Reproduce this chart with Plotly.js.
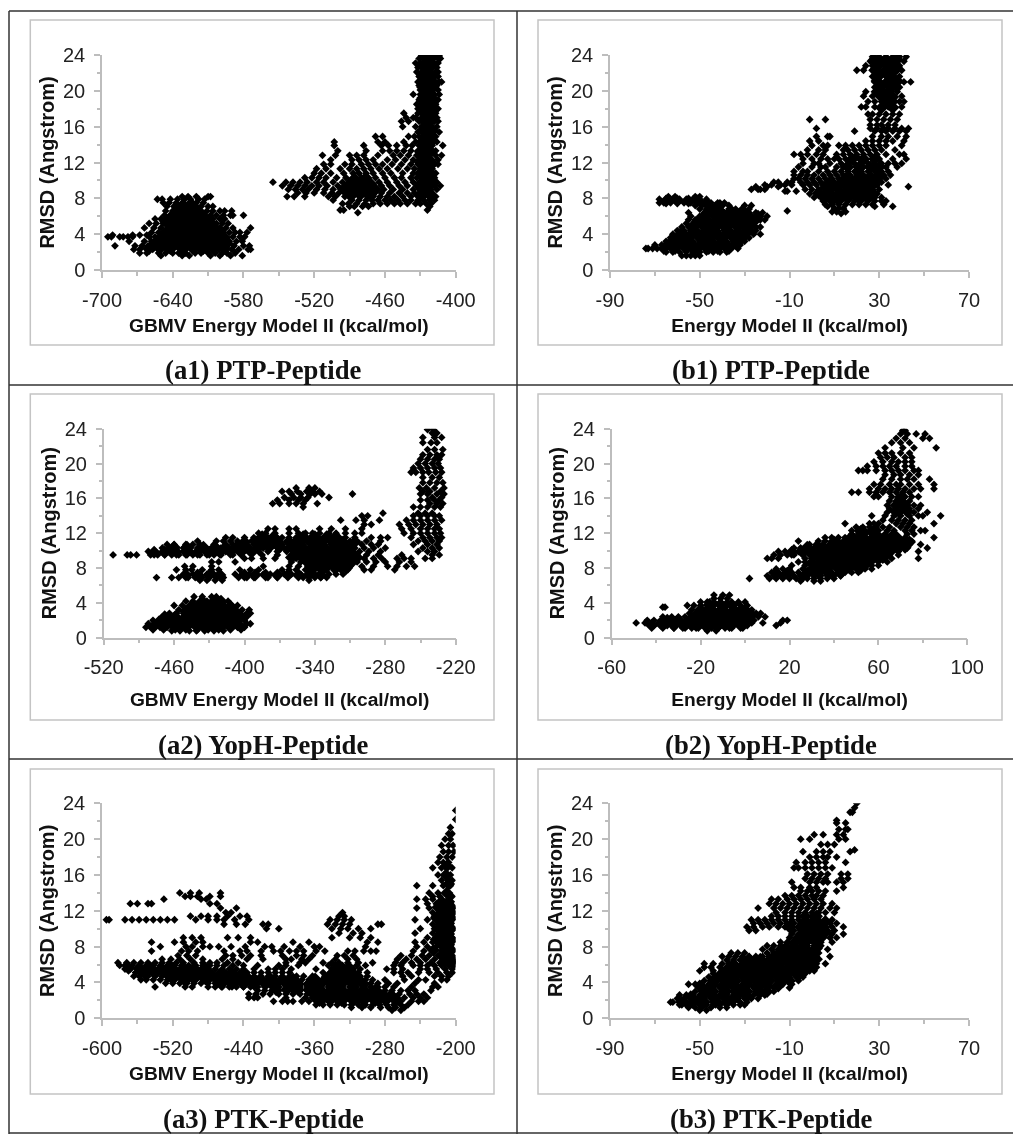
<!DOCTYPE html>
<html><head><meta charset="utf-8">
<script src="https://cdn.plot.ly/plotly-3.0.1.min.js"></script>
<style>html,body{margin:0;padding:0;background:#fff}#c{width:1013px;height:1134px;filter:blur(0.7px)}</style>
</head><body><div id="c"></div>
<script>
// Each row is [RMSD, energy, energy, ...].
const a1Rows=[
[1.6,-650,-632,-626,-608,-600,-591,-581],
[1.9,-668,-662,-652,-646,-640,-635,-629,-621,-616,-610,-604,-598,-594,-587],
[2.3,-673,-668,-662,-657,-651,-645,-640,-634,-629,-623,-618,-612,-607,-601,-596,-590,-584,-576,-574],
[2.7,-689,-672,-666,-661,-655,-650,-644,-638,-633,-627,-622,-616,-611,-605,-600,-594,-588,-580,-575],
[3.2,-677,-664,-658,-653,-647,-642,-636,-631,-625,-620,-614,-609,-603,-598,-592,-586,-581],
[3.7,-695,-692,-685,-682,-678,-674,-660,-655,-650,-644,-639,-633,-628,-622,-617,-611,-606,-600,-595,-589,-583,-579],
[3.9,-691,-674,-668,-662],
[4.2,-658,-652,-647,-641,-636,-630,-625,-619,-614,-608,-603,-597,-592,-587,-583,-577],
[4.7,-664,-656,-650,-644,-639,-633,-628,-622,-617,-611,-606,-600,-595,-589,-574],
[5.2,-660,-654,-648,-642,-636,-631,-625,-620,-614,-609,-603,-598,-593],
[5.7,-655,-650,-644,-639,-633,-628,-622,-617,-611,-606,-600,-596],
[6.1,-647,-641,-636,-630,-625,-619,-614,-608,-603,-597,-591,-589,-580],
[6.6,-646,-640,-634,-628,-623,-617,-611,-606,-600,-596,-590],
[7.1,-645,-639,-633,-628,-622,-616,-610,-606],
[7.5,-648,-643,-637,-631,-626,-620,-614],
[7.9,-653,-649,-642,-636,-630,-625,-618,-613],
[8.2,-632,-627,-620,-610,-608],
[6.4,-483],[6.7,-498,-495,-424],
[7.1,-490,-486,-479,-474,-422],
[7.4,-496,-491,-484,-477,-470,-464,-458,-452,-447,-441,-434,-430,-425,-421],
[7.8,-504,-488,-482,-476,-471,-466,-460,-455,-449,-443,-438,-432,-427,-422,-418],
[8.2,-543,-537,-528,-508,-502,-494,-487,-481,-475,-470,-464,-458,-452,-445,-438,-432,-427,-423,-417],
[8.6,-534,-527,-520,-512,-505,-499,-492,-486,-480,-475,-469,-463,-456,-448,-441,-435,-430,-425,-420],
[9,-542,-536,-530,-525,-518,-511,-504,-497,-491,-485,-480,-474,-468,-461,-453,-445,-436,-431,-426,-421,-416],
[9.4,-547,-540,-534,-528,-522,-516,-509,-500,-494,-488,-482,-476,-470,-463,-456,-448,-441,-433,-428,-423,-418,-413],
[9.8,-555,-544,-538,-532,-526,-518,-512,-504,-496,-490,-484,-478,-472,-465,-458,-450,-443,-436,-430,-425,-420,-416],
[10.3,-528,-522,-516,-510,-501,-493,-486,-480,-474,-468,-460,-452,-446,-438,-433,-428,-422,-418],
[10.8,-520,-514,-506,-495,-487,-482,-476,-470,-462,-455,-445,-436,-431,-426,-421,-417],
[11.3,-518,-510,-498,-490,-484,-478,-472,-465,-458,-449,-441,-435,-430,-425,-420],
[11.8,-512,-506,-494,-488,-480,-474,-468,-462,-454,-446,-438,-432,-428,-422,-418,-415],
[12.3,-506,-488,-482,-476,-470,-458,-451,-443,-436,-431,-426,-420,-415],
[12.8,-513,-502,-490,-484,-478,-466,-453,-447,-440,-433,-428,-423,-417,-412],
[13.3,-500,-476,-462,-456,-450,-444,-438,-432,-427,-422,-417],
[13.9,-503,-478,-463,-457,-450,-442,-437,-431,-426,-420,-411],
[14.3,-503,-466,-460,-444,-434,-430,-425,-420,-416],
[14.9,-468,-462,-440,-435,-431,-426,-421,-417],
[15.4,-432,-428,-423,-419,-414],[16,-445,-434,-429,-424,-420,-416],
[16.6,-446,-440,-431,-427,-422,-418,-415],[17,-442,-436,-434,-428,-423,-419,-416],
[17.5,-444,-432,-429,-425,-420,-417],[18,-432,-427,-423,-418,-415],
[18.5,-433,-429,-425,-421,-417],[19,-431,-427,-423,-419,-415],[19.6,-436,-430,-426,-422,-418,-414],
[20.1,-430,-427,-423,-419,-415],[20.6,-431,-428,-424,-420,-416],[21,-432,-429,-425,-421,-417,-414,-412],
[21.6,-431,-427,-423,-419,-415],[22.1,-433,-429,-425,-421,-417,-415],[22.6,-432,-428,-424,-420,-416],
[23.1,-434,-430,-426,-422,-418,-415],[23.6,-431,-427,-423,-419,-415,-413],[23.9,-429,-425,-421,-417,-414]
];
const a1Core=[
[2.4,-660,-651,-642,-632,-623,-614,-605,-596],[3,-655,-646,-637,-628,-618,-609,-600,-594],
[3.6,-650,-641,-632,-623,-614,-605,-596],[4.2,-646,-637,-628,-618,-609,-600],
[4.8,-641,-632,-623,-614,-605],[5.4,-646,-637,-628,-618,-609],[6,-641,-632,-623,-614],
[6.6,-636,-627,-618],[7.2,-632,-623],
[8.4,-490,-481,-472,-430,-421],[9,-495,-486,-477,-468,-426],[9.6,-490,-481,-472,-430,-421],
[10.2,-486,-477,-426],[10.8,-430,-421],[11.4,-426],[12,-430,-421],[12.6,-426],[13.2,-430,-421],[13.8,-425],
[14.4,-428,-420],[15,-424],[15.6,-428,-420],[16.2,-424],[16.8,-428,-420],[17.4,-424],[18,-428,-420],[18.6,-424],
[19.2,-428,-420],[19.8,-424],[20.4,-428,-420],[21,-424],[21.6,-428,-420],[22.2,-424],[22.8,-428,-420],[23.4,-424]
];
const b1Rows=[
[1.6,-58,-56,-54,-52,-50],
[2,-65,-62,-59,-56,-53,-50,-47,-44,-41,-38],
[2.4,-74,-73,-71,-69,-66,-63,-60,-57,-54,-51,-48,-45,-42,-39,-36,-33],
[2.8,-70,-67,-64,-61,-58,-55,-52,-49,-46,-43,-40,-37,-34,-32],
[3.2,-65,-62,-59,-56,-53,-50,-47,-44,-41,-38,-35,-32,-30],
[3.6,-63,-60,-57,-54,-51,-48,-45,-42,-39,-36,-33,-30,-28],
[4,-62,-59,-56,-53,-50,-47,-44,-41,-38,-35,-32,-29,-26,-23],
[4.4,-60,-57,-54,-51,-48,-45,-42,-39,-36,-33,-30,-27,-25],
[4.8,-58,-55,-52,-49,-46,-43,-40,-37,-34,-31,-28,-25,-23],
[5.2,-56,-53,-50,-47,-44,-41,-38,-35,-33,-30],
[5.6,-55,-52,-49,-46,-43,-40,-37,-34,-31,-28,-25,-23,-21],
[6,-54,-50,-47,-44,-41,-38,-35,-33,-30,-27,-24,-20],
[6.4,-55,-48,-45,-42,-39,-36,-33,-31,-28,-25,-22],
[6.8,-50,-47,-44,-41,-37,-34,-31,-28],
[7.2,-52,-49,-46,-43,-40,-37,-30,-27],
[7.5,-68,-66,-63,-60,-57,-54,-51,-48,-45,-42,-39],
[7.9,-68,-65,-62,-59,-56,-53,-50,-47],[8.2,-64,-61,-52,-50],
[6.6,-11],[6.3,13],[6.5,9,11,15],
[6.9,10,12,14],[7.1,7,28,36],
[7.3,6,9,12,15,18,21,24,27,32],
[7.7,5,8,10,13,16,19,22,25,28,31,33],
[8.1,1,4,7,10,13,16,19,22,25,28,31],
[8.5,-1,2,5,8,11,14,17,20,23,26,29],
[8.8,-12,-11,-7],[9,-27,-24,-23,-21,-3,0,3,6,9,12,15,18,21,24,27,30],
[9.3,-25,-20,-15,43],[9.5,-21,-18,-14,-12,-9,-4,-1,2,5,8,11,14,17,20,23,26,29,34],
[9.8,-17,-15,-11,-9,-5,-2,1,4,7,10,13,16,19,22,25,28,31],
[10.2,-8,-6,-3,0,3,6,9,12,15,18,21,24,27,33],
[10.6,-8,-5,-2,1,5,8,11,14,17,20,23,26,29,32,35],
[11,-8,-4,-2,3,7,10,13,16,19,22,25,28,31,34],
[11.5,-6,0,4,6,11,14,17,20,23,26,29,33,38],
[11.9,-4,1,3,8,13,16,19,22,25,28,31,34,37,40],
[12.4,-4,0,4,7,10,12,15,18,21,24,27,30,36,42],
[12.9,-8,-5,-2,2,5,11,14,17,20,23,26,29,33,39,41],
[13.4,-2,3,6,14,16,19,22,25,28,31,37],
[13.9,0,5,7,12,15,18,21,24,27,30,33,40],
[14.4,-1,3,24,27,30,33,36,41],[14.9,2,7,8,27,31,34,38,42],
[15.5,19,28,31,33,36,39,42],[15.8,2,26,29,32,34,37,40,43],
[16.2,26,29,31,34,37],[16.8,-1,6,26,29,32,35,38],
[17.4,25,27,30,33,36,39],[18.2,22,24,28,31,34,37,40],
[18.8,25,28,31,34,37,39,41],[19.4,23,27,30,33,36,40],[19.9,24,29,32,35,38],
[20.4,28,31,34,37,39],[21,28,30,33,36,39,41,44],
[21.6,27,30,33,36,39],[22.3,20,23,27,29,32,35,38,40],[22.8,24,27,30,33,36,39],
[23.3,26,29,32,35,38,41],[23.8,27,30,33,36,39,42]
];
const b1Core=[
[2.4,-66,-61,-56,-51,-46,-42,-37],[3,-63,-58,-54,-49,-44,-39,-34],[3.6,-60,-55,-50,-45,-40,-35,-31],
[4.2,-58,-53,-48,-43,-38,-33,-29],[4.8,-53,-48,-43,-38,-33,-28],[5.4,-51,-46,-41,-36,-31,-26],
[6,-48,-43,-38,-33,-28,-24],[6.6,-46,-41,-36,-31],[7.2,-46,-41],[7.7,-65,-60,-55,-51],
[8,6,11,16,21,25],[8.6,3,8,13,18,23,27],[9.2,6,11,16,21,26],[9.8,8,13,18,23,28],[10.4,16,21,26,30],
[11.5,16,21,26,30],[12.4,18,23,28],
[18.1,31,36],[18.7,33],[19.3,31,36],[19.9,29,34],[20.5,31,36],[21.1,29,34,38],[21.7,30,35],[22.3,28,33,37],[22.9,30,35],[23.5,28,33,38]
];
const a2Rows=[
[0.8,-462,-455,-447,-441,-434,-426,-418],
[1.2,-484,-478,-472,-466,-460,-454,-448,-442,-436,-430,-424,-418,-412,-406,-400],
[1.6,-482,-476,-470,-464,-458,-452,-446,-440,-434,-428,-422,-416,-410,-404,-398,-395],
[2,-478,-472,-466,-460,-454,-448,-442,-436,-430,-424,-418,-412,-406,-400],
[2.4,-470,-464,-458,-452,-446,-440,-434,-428,-422,-416,-410,-404,-398],
[2.8,-464,-458,-452,-446,-440,-434,-428,-422,-416,-410,-404,-398,-395],
[3.2,-456,-450,-444,-438,-432,-426,-420,-414,-408,-402,-396],
[3.7,-460,-453,-447,-441,-435,-429,-423,-417,-411,-406],
[4.2,-450,-444,-438,-432,-426,-420,-414],
[4.7,-443,-436,-428,-424],
[6.6,-438,-432,-425,-419,-345],
[6.9,-475,-462,-456,-448,-442,-436,-430,-424,-418,-405,-398,-392,-380,-372,-350,-340,-335,-330],
[7.3,-452,-444,-438,-432,-426,-420,-408,-402,-396,-390,-384,-378,-372,-366,-360,-352,-346,-340,-334,-328,-322,-316],
[7.8,-458,-450,-445,-436,-428,-422,-404,-395,-388,-368,-362,-356,-348,-342,-336,-330,-324,-318,-312,-298,-292,-272],
[8.2,-451,-444,-428,-384,-362,-354,-346,-340,-334,-328,-322,-316,-310,-300,-290,-278,-270,-262,-255],
[8.7,-428,-422,-408,-360,-352,-346,-340,-334,-328,-322,-316,-310,-304,-296,-288,-280,-268,-258],
[9.1,-400,-394,-384,-374,-356,-348,-342,-336,-330,-324,-318,-312,-306,-298,-290,-283,-270,-264,-258,-246,-240],
[9.5,-512,-500,-497,-492,-480,-474,-468,-462,-456,-450,-444,-438,-432,-426,-420,-410,-385,-372,-360,-352,-346,-340,-334,-328,-322,-316,-310,-304,-296,-286,-266,-240,-234],
[9.9,-482,-476,-470,-464,-458,-452,-446,-440,-434,-428,-422,-416,-410,-404,-394,-388,-380,-372,-364,-356,-350,-344,-338,-332,-326,-320,-314,-308,-302,-294,-284,-252,-244,-238],
[10.3,-470,-464,-458,-452,-446,-440,-434,-428,-420,-414,-408,-402,-396,-390,-384,-378,-372,-366,-360,-354,-348,-342,-336,-330,-324,-318,-312,-306,-298,-290,-280,-248,-240,-234],
[10.7,-466,-460,-450,-444,-438,-426,-416,-410,-404,-398,-392,-386,-380,-374,-368,-362,-356,-350,-344,-338,-332,-326,-320,-314,-308,-300,-292,-286,-256,-244,-236],
[11.1,-440,-424,-418,-412,-406,-400,-394,-388,-382,-376,-370,-364,-358,-352,-346,-340,-334,-328,-322,-316,-310,-304,-296,-284,-252,-246,-240,-234],
[11.5,-416,-410,-400,-392,-386,-380,-374,-368,-362,-356,-350,-344,-338,-332,-326,-320,-314,-306,-292,-284,-278,-258,-248,-242,-236,-232],
[12,-388,-382,-374,-362,-354,-348,-342,-336,-328,-322,-314,-306,-300,-264,-256,-250,-244,-238,-233],
[12.5,-380,-374,-362,-356,-336,-326,-314,-300,-266,-258,-250,-244,-238,-234],
[13,-298,-292,-268,-260,-254,-248,-242,-236],[13.5,-318,-305,-298,-285,-262,-256,-250,-244,-238,-232],
[14,-300,-295,-256,-250,-244,-238,-234],[14.3,-282,-252,-246,-240],
[15,-350,-256,-250,-244,-238,-233],[15.4,-376,-370,-362,-356,-350,-338,-242,-236,-231],
[15.8,-372,-362,-354,-348,-250,-244,-238,-234],[16.1,-366,-358,-352,-346,-328,-240,-232],[16.5,-360,-352,-344,-340,-334,-308,-250,-244,-236,-230],
[16.8,-368,-362,-355,-347,-342,-336,-248,-242,-233],[17.2,-356,-345,-340,-251,-245,-238,-230],
[17.8,-248,-242,-236,-231],[18.4,-248,-240,-234],[19,-258,-254,-248,-243,-237,-232],[19.5,-256,-250,-244,-238,-233],
[20,-252,-246,-240,-235],[20.5,-250,-244,-238,-234],[21,-248,-242,-236,-232],[21.6,-244,-238,-231],[22.4,-248,-241,-236],[23,-248,-238,-232],[23.5,-240,-236],[23.9,-244,-239]
];
const a2Core=[
[1.2,-478,-469,-459,-450,-440,-431,-422,-412,-403],[1.8,-473,-464,-454,-445,-436,-426,-417,-408],
[2.4,-468,-459,-450,-440,-431,-422,-412,-403],[3,-450,-445,-436,-426,-417,-408],[3.6,-445,-440,-431,-422,-412],[4.2,-436,-426,-420],
[7.2,-450,-440,-430,-421,-400,-391,-382,-372,-363,-354,-345,-335],
[8,-341,-332,-322,-313],[8.6,-346,-337,-327,-318,-309],[9.2,-360,-351,-341,-332,-322,-313,-304],
[9.8,-477,-468,-458,-449,-440,-430,-421,-412,-403,-394,-355,-346,-337,-327,-318,-309],
[10.4,-460,-449,-435,-425,-416,-407,-398,-388,-379,-370,-360,-351,-341,-332,-322,-313],
[11,-400,-390,-381,-372,-362,-353,-344,-334,-325,-316,-306],[11.6,-385,-375,-350,-340,-330,-322]
];
const b2Rows=[
[0.8,-17,-13],[1.1,-32,-28,-24,-21,-18,-15,-12,-9,-6,-1],
[1.4,-41,-38,-35,-32,-29,-26,-23,-20,-17,-14,-11,-8,-5,-2,1,14],
[1.7,-49,-45,-42,-39,-36,-33,-30,-27,-24,-21,-18,-15,-12,-9,-6,-3,0,3,8,16],
[2,-44,-41,-38,-35,-32,-29,-26,-23,-20,-17,-14,-11,-8,-5,-2,1,4,17,19],
[2.4,-37,-33,-30,-27,-24,-21,-18,-15,-12,-9,-6,-3,0,3,6,9],
[2.8,-25,-22,-19,-16,-13,-10,-7,-4,-1,2,5,7],
[3.2,-24,-21,-18,-15,-12,-9,-6,-3,0,3],[3.5,-37,-36],
[3.7,-26,-23,-20,-17,-14,-11,-8,-5,-2,1],[4.1,-20,-17,-14,-11,-8,-3,0],
[4.5,-14,-11,-8],[4.9,-14,-10,-7],
[6.5,25,31,34],[6.8,2,11,14,17,20,23,26,28,31,34,37,40],
[7.1,10,13,16,19,22,25,28,31,34,37,40,43],
[7.5,12,15,18,21,24,27,30,33,36,39,42,45,48,51],
[7.9,14,17,20,26,29,32,35,38,41,44,47,50,54,57],
[8.3,21,27,30,33,36,39,42,45,48,51,54,57,60],
[8.7,24,27,30,33,36,39,42,45,48,51,54,57,60,64],
[9.1,10,12,15,27,30,33,36,39,42,45,48,51,54,57,60,63,66,78],
[9.5,13,16,19,22,26,29,32,35,38,41,44,47,50,53,56,59,62,65,69],
[9.9,15,18,21,24,27,30,33,36,39,42,45,48,51,54,57,60,63,66,69,78],
[10.3,22,25,28,31,34,37,40,43,46,49,52,55,58,61,64,67,70,73,82],
[10.7,29,32,35,38,41,44,47,50,53,56,59,62,65,68,71,74,79],
[11.1,24,33,36,39,42,45,48,51,54,57,60,63,66,69,72,75],
[11.5,36,39,42,45,48,51,54,57,60,63,66,69,72,85],
[11.9,48,51,54,57,60,63,66,73,76],[12.3,48,51,54,57,60,64,67,72,75,79,81],
[12.7,50,53,56,59,62,65,70,73,76],[13.1,45,56,58,60,68,71,74,85],
[13.5,62,66,69,72,75],[14,57,63,67,70,74,78,80,88],[14.4,64,67,70,73,76,82],
[14.8,65,68,71,74,78],[15.2,64,67,70,73,76,79],[15.7,65,68,71,74],[16.2,58,60,66,69,72,75,78],
[16.7,48,51,56,59,62,65,68,71,74],[17.1,56,60,63,66,69,72,76,79,85],
[17.6,58,61,65,68,70,74,78,85],[18.2,62,66,70,73,76,83],[18.7,63,67,70,74,78],
[19.2,51,53,55,59,63,66,69,72,76,78],[19.7,55,59,62,65,68,72,75],[20.2,58,62,66,69,72,75],
[20.7,61,64,67,72,75],[21.2,60,63,66,70,74],[21.8,63,71,76,86],[22.4,66,70,74],[22.9,68,72,80,83],[23.4,70,73,77,81],[23.8,71,72]
];
const b2Core=[
[1.4,-42,-37,-32,-27,-22,-17,-12,-7,-2],[2,-35,-30,-25,-20,-15,-10,-5,0],[2.6,-22,-17,-12,-7,-2,3],[3.2,-20,-15,-10,-5,0],[3.8,-16,-11,-6],
[7.4,14,19,28,33,38,43],[8,32,37,42,47,52],[8.6,30,35,40,45,50,55],[9.2,33,38,43,48,53,58,62],
[9.8,21,26,30,35,40,45,50,55,60,65],[10.4,28,33,38,43,48,53,58,63,68,72],[11,40,45,50,55,60,65,70,74],[11.6,48,53,58,63,68],[12.2,52,57],
[14.5,68,73],[15.2,68,72],[16,70]
];
const a3Rows=[
[0.9,-272,-262],[1.2,-318,-306,-296,-285,-276,-268,-258],
[1.5,-358,-350,-342,-334,-326,-318,-310,-302,-294,-286,-278,-270,-262,-254],
[1.9,-406,-396,-390,-384,-374,-366,-358,-350,-342,-334,-326,-318,-310,-302,-294,-286,-278,-270,-262,-250,-242,-236],
[2.3,-434,-428,-424,-392,-370,-362,-354,-346,-338,-330,-322,-314,-306,-298,-290,-282,-274,-266,-258,-248,-240,-232],
[2.7,-434,-426,-418,-410,-400,-392,-384,-376,-368,-360,-352,-344,-336,-328,-320,-312,-304,-296,-288,-280,-272,-264,-252,-244,-236],
[3.1,-424,-416,-408,-400,-392,-384,-376,-368,-360,-352,-344,-336,-328,-320,-312,-304,-296,-288,-280,-272,-262,-254,-246,-228],
[3.5,-540,-506,-498,-480,-472,-464,-456,-448,-440,-432,-424,-416,-408,-400,-392,-384,-376,-368,-360,-352,-344,-336,-328,-320,-312,-304,-296,-288,-280,-270,-250,-226,-220],
[3.9,-528,-520,-512,-504,-496,-488,-480,-472,-464,-456,-448,-440,-432,-424,-416,-408,-400,-392,-384,-376,-368,-360,-352,-344,-336,-328,-320,-312,-304,-296,-288,-276,-266,-246,-224],
[4.3,-556,-550,-542,-534,-526,-518,-510,-502,-494,-486,-478,-470,-462,-454,-446,-438,-430,-422,-414,-406,-398,-390,-382,-374,-366,-358,-350,-342,-334,-326,-318,-310,-302,-294,-280,-258,-242,-234,-216,-210],
[4.7,-564,-558,-548,-540,-532,-524,-516,-508,-500,-492,-484,-476,-468,-460,-452,-444,-436,-428,-420,-412,-404,-396,-388,-380,-372,-362,-348,-340,-332,-324,-316,-308,-300,-260,-250,-224,-216,-208],
[5.1,-562,-556,-548,-540,-532,-524,-516,-508,-500,-492,-484,-476,-468,-460,-452,-444,-436,-428,-420,-412,-404,-396,-388,-350,-342,-334,-326,-318,-310,-300,-270,-262,-254,-242,-230,-220,-210,-204],
[5.5,-574,-568,-560,-552,-544,-536,-528,-520,-512,-504,-496,-488,-480,-472,-464,-456,-448,-440,-428,-412,-404,-396,-386,-358,-340,-332,-324,-316,-308,-278,-270,-260,-240,-232,-222,-212,-204],
[5.9,-580,-574,-566,-558,-550,-542,-534,-526,-518,-510,-502,-494,-486,-478,-470,-462,-452,-440,-424,-400,-392,-378,-344,-336,-328,-320,-312,-302,-270,-262,-248,-240,-232,-224,-216,-208,-202],
[6.2,-582,-572,-564,-556,-548,-540,-532,-524,-516,-508,-496,-486,-478,-470,-458,-446,-392,-376,-370,-350,-340,-332,-322,-310,-294,-268,-260,-250,-240,-228,-218,-210,-203],
[6.6,-532,-522,-512,-500,-486,-464,-452,-436,-418,-392,-386,-374,-366,-336,-322,-312,-266,-256,-244,-234,-224,-214,-206,-201],
[7,-514,-504,-494,-460,-452,-442,-432,-420,-396,-380,-372,-362,-334,-326,-316,-262,-250,-238,-230,-220,-212,-204],
[7.5,-544,-510,-502,-492,-462,-444,-436,-420,-406,-398,-388,-380,-372,-358,-348,-322,-314,-304,-296,-290,-248,-236,-226,-216,-206],
[8,-534,-505,-498,-486,-478,-468,-454,-438,-416,-408,-394,-376,-360,-354,-302,-244,-232,-222,-214,-206],
[8.5,-544,-518,-508,-494,-486,-432,-424,-384,-366,-300,-288,-246,-236,-226,-218,-204],
[9,-508,-498,-488,-458,-446,-432,-340,-320,-308,-296,-232,-222,-214,-204],
[9.5,-332,-316,-306,-246,-226,-216,-208],[10,-414,-400,-340,-330,-322,-310,-296,-240,-224,-214,-204],
[10.5,-462,-448,-438,-418,-412,-345,-336,-328,-320,-288,-284,-226,-216,-206],
[11,-595,-592,-574,-566,-558,-550,-542,-534,-526,-518,-494,-480,-470,-462,-450,-434,-342,-334,-326,-318,-246,-232,-222,-212,-204],
[11.4,-500,-488,-480,-470,-458,-444,-436,-332,-326,-224,-214,-206],[11.8,-460,-454,-328,-226,-216,-208,-202],
[12.3,-466,-448,-244,-230,-220,-212,-204],[12.8,-568,-560,-548,-544,-478,-470,-232,-222,-214,-206],
[13.3,-530,-488,-482,-244,-234,-226,-216,-208],[13.6,-506,-500,-492,-478,-466,-226,-218,-204],
[14,-512,-500,-490,-466,-230,-220,-210],[14.8,-244,-226,-214,-206],[15.4,-216,-208,-204],[16,-220,-212,-206],[16.8,-226,-216,-210,-204],
[17.4,-220,-214,-208],[18,-218,-210,-204],[18.6,-214,-208,-202],[19.3,-216,-208,-203],[20,-212,-206],[20.6,-208,-204],[21.3,-206],[22.2,-200],[23.2,-200]
];
const a3Core=[
[2,-354,-342,-329,-316,-304,-291,-279,-267],[2.6,-360,-348,-335,-323,-310,-298,-285,-273],
[3.2,-403,-391,-378,-366,-353,-341,-329,-316,-304,-291],
[3.8,-465,-453,-440,-428,-415,-403,-391,-378,-366,-353,-341,-329,-316,-304],
[4.4,-520,-508,-496,-483,-471,-458,-446,-434,-421,-409,-396,-384,-359,-347,-334,-322,-310],
[5,-552,-540,-527,-515,-503,-490,-478,-465,-453,-440,-340,-328,-316],
[5.6,-570,-558,-545,-533,-520,-508,-496,-483,-334,-322],
[6.4,-212,-205],[7,-216,-208],[7.6,-225,-212,-205],[8.2,-216,-208],[8.8,-222,-212,-205],[9.4,-216,-208],[10,-220,-212,-205],
[10.6,-216,-208],[11.2,-222,-212,-205],[11.8,-216,-208],[12.4,-220,-212,-205],[13,-216,-208],[14,-210],[15,-208],[16,-211],[17,-210]
];
const b3Rows=[
[0.9,-50,-47],[1.2,-55,-52,-49,-45,-41,-38],
[1.5,-59,-56,-53,-50,-47,-44,-41,-38,-35,-32,-30],
[1.8,-63,-62,-59,-56,-53,-50,-47,-44,-41,-38,-35,-32,-29],
[2.2,-60,-57,-54,-51,-48,-45,-42,-39,-36,-33,-30,-27,-24],
[2.6,-59,-56,-53,-50,-47,-44,-41,-38,-35,-32,-29,-26,-23,-21],
[3,-52,-49,-46,-43,-40,-37,-34,-31,-28,-25,-22,-20,-17],
[3.4,-50,-47,-44,-41,-38,-35,-32,-29,-26,-23,-20,-17,-10],
[3.8,-55,-52,-49,-46,-43,-40,-37,-34,-31,-28,-25,-22,-19,-16,-13,-9],
[4.2,-48,-45,-42,-39,-36,-33,-30,-27,-24,-21,-18,-15,-12,-9,-6],
[4.6,-46,-43,-40,-37,-34,-31,-28,-25,-22,-19,-16,-13,-10,-7,-4],
[5,-44,-41,-38,-35,-32,-29,-26,-23,-20,-17,-14,-11,-8,-5,-3],
[5.3,-50,-44,-40,-37,-34,-31,-28,-25,-22,-19,-16,-13,-10,-7,-4,-1,1],
[5.7,-48,-45,-41,-38,-35,-32,-29,-26,-23,-20,-17,-14,-11,-8,-5,-2,2],
[6.1,-48,-44,-40,-37,-34,-31,-28,-25,-22,-19,-16,-13,-10,-7,-4,-1,2,6],
[6.5,-38,-35,-32,-29,-26,-23,-20,-17,-14,-11,-8,-5,-2,1],
[6.9,-40,-37,-34,-31,-28,-25,-22,-19,-16,-13,-10,-7,-4,-1,2,8],
[7.3,-36,-33,-30,-20,-17,-14,-11,-8,-5,-2,1,3],
[7.7,-22,-18,-15,-12,-9,-6,-3,0,2,7],[8.1,-20,-17,-14,-11,-8,-5,-2,1,4],
[8.5,-14,-11,-8,-5,-2,1,4,9],[9,-10,-7,-4,-1,2,5,8,11],[9.4,-9,-6,-3,0,3,6,9,14],
[9.8,-28,-25,-8,-5,-2,1,4,7,10],[10.2,-29,-26,-22,-19,-15,-12,-9,-6,-3,0,3,6,9,14],
[10.6,-26,-23,-20,-17,-14,-11,-8,-5,-2,1,4,8,11],[11,-27,-24,-21,-18,-15,-12,-9,-6,-3,0,3,9],
[11.4,-18,-15,-12,-9,-6,-3,0,3],[11.8,-16,-12,-9,-6,-3,0,3,6,10],[12.3,-24,-17,-14,-11,-8,-5,-2,1,4,8,11],
[12.8,-19,-16,-13,-10,-7,-4,-1,2,5,9],[13.3,-18,-15,-11,-8,-5,-2,1,4],[13.7,-12,-9,-6,-3,0,2,5],
[14.2,-5,-2,0,3,6,11],[14.6,-8,-5,-1,2,14],[15.2,-9,-1,2,5,7,11,14],[15.6,-3,0,3,6,13,16],
[16.1,-2,1,4,7,13,16],[16.8,-8,-6,-3,0,3,6,9],[17.4,-7,-3,0,3,6,15],[18,-1,2,5,7,11],[18.6,-4,2,5,8,17],
[19.4,4,7,10],[20,-5,-1,12,15],[20.5,1,5,11,14],[21.1,12,15,16],[21.8,11,15],[22.1,11],[23,17,18],[23.5,19],[24,20],[18.8,19]
];
const b3Core=[
[1.8,-58,-53,-48,-43,-38],[2.4,-54,-49,-44,-39,-34,-29],[3,-48,-44,-39,-34,-29,-24,-20],[3.6,-50,-45,-40,-35,-30,-25,-20,-15],
[4.2,-44,-39,-34,-29,-24,-19,-14,-10],[4.8,-41,-36,-31,-26,-21,-16,-11,-6],[5.4,-38,-33,-28,-23,-18,-13,-8,-3],
[6,-35,-30,-25,-20,-15,-10,-5,0],[6.6,-28,-23,-18,-13,-8,-3,2],[7.2,-15,-10,-5,0],[7.8,-12,-8,-3,2],[8.4,-8,-3,2],
[9,-6,-1,4],[9.6,-3,2,6],[10.2,-10,-5,0,5],[10.8,-3,2,6],[11.4,-3,2]
];

const panelNames=['a1','b1','a2','b2','a3','b3'];
const captions=['(a1) PTP-Peptide','(b1) PTP-Peptide','(a2) YopH-Peptide','(b2) YopH-Peptide','(a3) PTK-Peptide','(b3) PTK-Peptide'];
const xTitles=['GBMV Energy Model II (kcal/mol)','Energy Model II (kcal/mol)','GBMV Energy Model II (kcal/mol)','Energy Model II (kcal/mol)','GBMV Energy Model II (kcal/mol)','Energy Model II (kcal/mol)'];
const xRanges=[[-700,-400],[-90,70],[-520,-220],[-60,100],[-600,-200],[-90,70]];
const xTickLabels=[
 ['-700','-640','-580','-520','-460','-400'],['-90','-50','-10','30','70'],
 ['-520','-460','-400','-340','-280','-220'],['-60','-20','20','60','100'],
 ['-600','-520','-440','-360','-280','-200'],['-90','-50','-10','30','70']];
const xMinorSteps=[30,20,30,20,40,20];
const rowSets=[a1Rows,b1Rows,a2Rows,b2Rows,a3Rows,b3Rows];
const coreSets=[a1Core,b1Core,a2Core,b2Core,a3Core,b3Core];

const W=1013,H=1134;
const plotBoxes=[[102,455.7,55,270],[610,969,55,270],[103.7,455.7,428.7,637.7],[611.7,967.3,428.7,637.7],[102,455.7,803.3,1018.3],[610,969,803.3,1018.3]];
const frames=[[30.3,494,20,345],[538,1002,20,345],[30.3,494,394,720],[538,1002,394,720],[30.3,494,769,1094],[538,1002,769,1094]];
const capPos=[[263,370],[771,370],[263,745],[771,745],[263,1119],[771,1119]];
const xStandoff=[9,9,15,15,9,9];

const traces=[],shapes=[],annotations=[];
const layout={width:W,height:H,margin:{l:0,r:0,t:0,b:0},showlegend:false,paper_bgcolor:'#fff',plot_bgcolor:'rgba(0,0,0,0)',shapes,annotations};
const px=(x)=>x/W, py=(y)=>1-y/H;
const axisBase={showgrid:false,zeroline:false,showline:true,linecolor:'#bdbdbd',linewidth:1.5,ticks:'outside',tickcolor:'#bdbdbd',ticklen:6,tickwidth:1.5,
  tickfont:{family:'Liberation Sans, Arial, sans-serif',size:20,color:'#222'},ticklabelstandoff:5};
const titleFont=(s)=>({family:'Liberation Sans, Arial, sans-serif',size:s,color:'#111',weight:'bold'});
const unpack=(rows)=>{const xs=[],ys=[];rows.forEach(r=>{for(let k=1;k<r.length;k++){xs.push(r[k]);ys.push(r[0]);}});return [xs,ys];};

panelNames.forEach((name,i)=>{
  const n=i+1, pts=unpack(rowSets[i]), core=unpack(coreSets[i]);
  traces.push({type:'scatter',mode:'markers',name:name+' dense core',x:core[0],y:core[1],xaxis:'x'+n,yaxis:'y'+n,hoverinfo:'x+y',
    marker:{symbol:'diamond',size:10,color:'#000'}});
  traces.push({type:'scatter',mode:'markers',name,x:pts[0],y:pts[1],xaxis:'x'+n,yaxis:'y'+n,hoverinfo:'x+y',
    marker:{symbol:'diamond',size:6,color:'#000'}});
  const b=plotBoxes[i], rng=xRanges[i];
  layout['xaxis'+n]=Object.assign({},axisBase,{domain:[px(b[0]),px(b[1])],anchor:'y'+n,range:rng,
    tickmode:'array',tickvals:xTickLabels[i].map(Number),ticktext:xTickLabels[i],
    minor:{tick0:rng[0],dtick:xMinorSteps[i],ticks:'outside',ticklen:4,tickcolor:'#bdbdbd',tickwidth:1.5},
    title:{text:xTitles[i],font:titleFont(19.2),standoff:xStandoff[i]}});
  layout['yaxis'+n]=Object.assign({},axisBase,{domain:[py(b[3]),py(b[2])],anchor:'x'+n,range:[0,24],tick0:0,dtick:4,
    minor:{tick0:0,dtick:2,ticks:'outside',ticklen:3,tickcolor:'#bdbdbd',tickwidth:1.5},
    title:{text:'RMSD (Angstrom)',font:titleFont(20),standoff:3}});
  const f=frames[i];
  shapes.push({type:'rect',xref:'paper',yref:'paper',x0:px(f[0]),x1:px(f[1]),y0:py(f[3]),y1:py(f[2]),line:{color:'#c4c4c4',width:1.5},layer:'below'});
  annotations.push({xref:'paper',yref:'paper',x:px(capPos[i][0]),y:py(capPos[i][1]),xanchor:'center',yanchor:'middle',showarrow:false,
    text:'<b>'+captions[i]+'</b>',font:{family:'Liberation Serif, Times New Roman, serif',size:26.7,color:'#111'}});
});
const rules=[[9,11,1013,11],[9,385,1013,385],[9,759,1013,759],[9,1133,1013,1133],[9,11,9,1134],[517,11,517,1134]];
rules.forEach(r=>shapes.push({type:'line',xref:'paper',yref:'paper',x0:px(r[0]),y0:py(r[1]),x1:px(r[2]),y1:py(r[3]),line:{color:'#333',width:1.5}}));
Plotly.newPlot('c',traces,layout,{displayModeBar:false,responsive:false});
</script></body></html>
